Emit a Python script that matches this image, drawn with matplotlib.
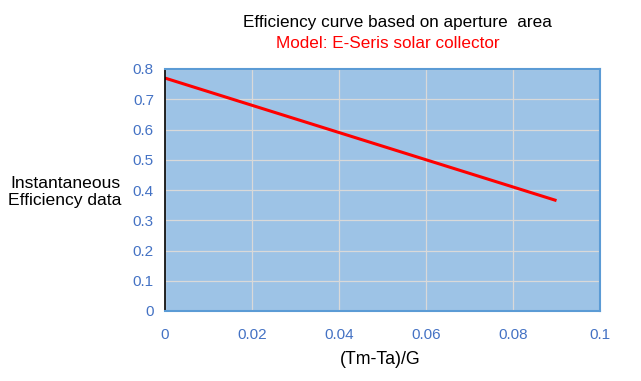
import numpy as np
import matplotlib
matplotlib.use('Agg')
import matplotlib.pyplot as plt

plt.rcParams['font.family'] = ['Liberation Sans', 'DejaVu Sans']

# data
x_vals = [0.0, 0.02, 0.04, 0.06, 0.08, 0.09]
eff = [0.77, 0.68, 0.59, 0.50, 0.41, 0.365]
xticks = [0, 0.02, 0.04, 0.06, 0.08, 0.1]
xlabels = ['0', '0.02', '0.04', '0.06', '0.08', '0.1']
yticks = [0, 0.1, 0.2, 0.3, 0.4, 0.5, 0.6, 0.7, 0.8]
ylabels = ['0', '0.1', '0.2', '0.3', '0.4', '0.5', '0.6', '0.7', '0.8']

fig = plt.figure(figsize=(6.41, 3.81), dpi=100)
fig.patch.set_facecolor('white')
ax = fig.add_axes([165/641, 1-311/381, (600-165)/641, (311-69)/381])
ax.set_facecolor('#9dc3e6')

ax.plot(x_vals, eff, color='#ff0000', lw=2.2, solid_capstyle='butt')

ax.set_xlim(0, 0.1)
ax.set_ylim(0, 0.8)
ax.set_xticks(xticks)
ax.set_xticklabels(xlabels)
ax.set_yticks(yticks)
ax.set_yticklabels(ylabels)
ax.grid(True, color='#d9d9d9', lw=0.9)
ax.set_axisbelow(True)
ax.tick_params(length=0, labelsize=11, labelcolor='#4472c4')
ax.tick_params(axis='x', pad=12)
ax.tick_params(axis='y', pad=8)

ax.spines['left'].set_color('black')
ax.spines['left'].set_linewidth(1.2)
for s in ['top', 'right', 'bottom']:
    ax.spines[s].set_color('#5b9bd5')
    ax.spines[s].set_linewidth(1.5)

fig.text(397/641, 1-22/381, 'Efficiency curve based on aperture  area',
         ha='center', va='center', fontsize=12.3, color='black')
fig.text(388/641, 1-44/381, 'Model: E-Seris solar collector',
         ha='center', va='center', fontsize=12.3, color='#ff0000')
fig.text(65/641, 1-192/381, 'Instantaneous\nEfficiency data',
         ha='center', va='center', fontsize=12.6, linespacing=1.15)
fig.text(380/641, 1-360/381, '(Tm-Ta)/G', ha='center', va='center', fontsize=12.8)

fig.savefig('out.png', dpi=100)
